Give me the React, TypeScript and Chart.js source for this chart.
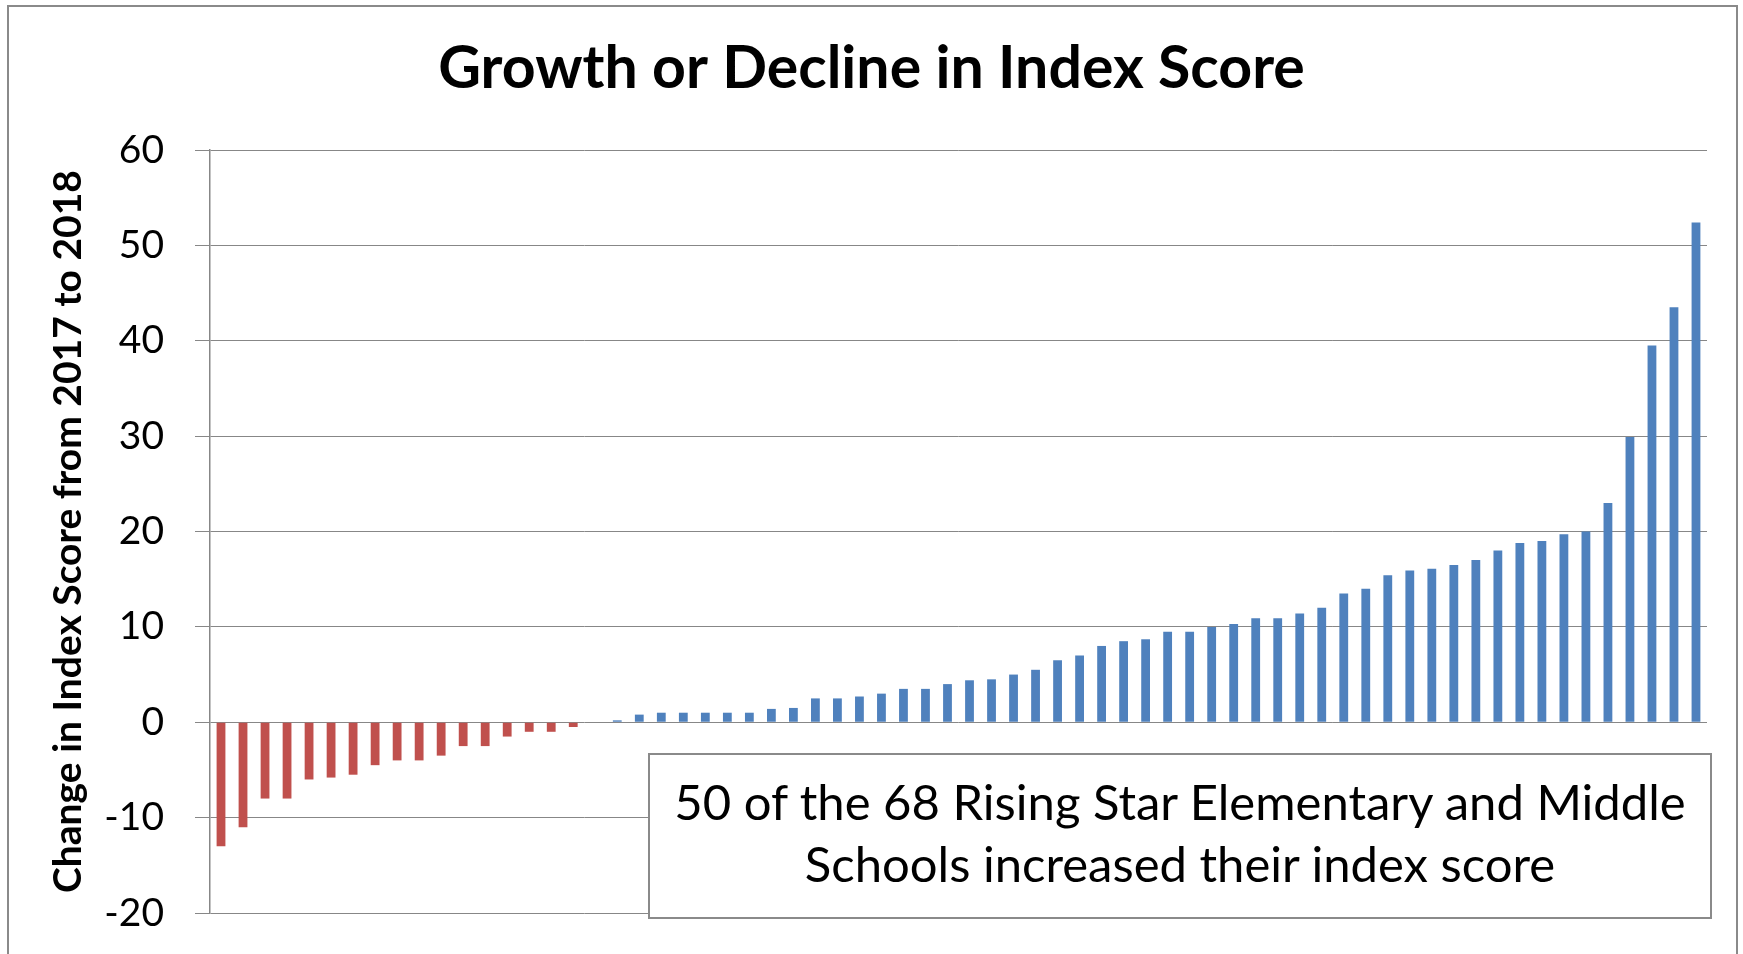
import React, { useEffect, useRef } from "react";
import { Chart, registerables } from "chart.js";

Chart.register(...registerables);

const chartTitle = "Growth or Decline in Index Score";
const yAxisTitle = "Change in Index Score from 2017 to 2018";
const noteLines = [
  "50 of the 68 Rising Star Elementary and Middle",
  "Schools increased their index score",
];

const schools = [
  "1", "2", "3", "4", "5", "6", "7", "8", "9", "10",
  "11", "12", "13", "14", "15", "16", "17", "18", "19", "20",
  "21", "22", "23", "24", "25", "26", "27", "28", "29", "30",
  "31", "32", "33", "34", "35", "36", "37", "38", "39", "40",
  "41", "42", "43", "44", "45", "46", "47", "48", "49", "50",
  "51", "52", "53", "54", "55", "56", "57", "58", "59", "60",
  "61", "62", "63", "64", "65", "66", "67", "68",
];

const indexChange = [
  -13, -11, -8, -8, -6, -5.8, -5.5, -4.5, -4, -4,
  -3.5, -2.5, -2.5, -1.5, -1, -1, -0.5, 0, 0.2, 0.8,
  1, 1, 1, 1, 1, 1.4, 1.5, 2.5, 2.5, 2.7,
  3, 3.5, 3.5, 4, 4.4, 4.5, 5, 5.5, 6.5, 7,
  8, 8.5, 8.7, 9.5, 9.5, 10, 10.3, 10.9, 10.9, 11.4,
  12, 13.5, 14, 15.4, 15.9, 16.1, 16.5, 17, 18, 18.8,
  19, 19.7, 20, 23, 29.9, 39.5, 43.5, 52.4,
];

const yTickValues = [-20, -10, 0, 10, 20, 30, 40, 50, 60];

const RED = "#C0504D";
const BLUE = "#4F81BD";
const GRID = "#878787";

const titlePlugin = {
  id: "fixedTitle",
  afterDraw(chart: any) {
    const ctx = chart.ctx;
    ctx.save();
    ctx.font = "bold 59px Lato";
    ctx.fillStyle = "#000";
    ctx.textAlign = "center";
    ctx.textBaseline = "alphabetic";
    ctx.fillText(chartTitle, chart.width / 2, 88);
    ctx.restore();
  },
};

export default function App() {
  const canvasRef = useRef<HTMLCanvasElement | null>(null);

  useEffect(() => {
    const canvas = canvasRef.current;
    if (!canvas) return;
    const chart = new Chart(canvas, {
      type: "bar",
      data: {
        labels: schools,
        datasets: [
          {
            data: indexChange,
            backgroundColor: indexChange.map((v) => (v < 0 ? RED : BLUE)),
            borderWidth: 0,
            barPercentage: 0.4,
            categoryPercentage: 1,
          },
        ],
      },
      options: {
        responsive: false,
        animation: false,
        devicePixelRatio: 1,
        layout: { padding: { left: 0, right: 36, top: 150, bottom: 41 } },
        plugins: {
          legend: { display: false },
          tooltip: { enabled: false },
          title: { display: false },
        },
        scales: {
          x: {
            display: false,
            grid: { display: false },
          },
          y: {
            min: yTickValues[0],
            max: yTickValues[yTickValues.length - 1],
            ticks: {
              stepSize: yTickValues[1] - yTickValues[0],
              padding: 31,
              color: "#000",
              font: { family: "Lato", size: 39 },
            },
            grid: {
              color: GRID,
              lineWidth: 1,
              tickLength: 15,
              drawTicks: true,
            },
            border: { color: GRID, width: 1.5 },
            title: {
              display: true,
              text: yAxisTitle,
              color: "#000",
              font: { family: "Lato", size: 39, weight: "bold", lineHeight: 1.2 },
              padding: { top: 45, bottom: 0 },
            },
            afterFit: (scale: any) => {
              scale.width = 210;
              scale.paddingTop = 0;
              scale.paddingBottom = 0;
            },
          },
        },
      },
      plugins: [titlePlugin],
    } as any);
    return () => chart.destroy();
  }, []);

  return (
    <div
      style={{
        position: "fixed",
        left: 0,
        top: 0,
        width: 1743,
        height: 954,
        overflow: "hidden",
        background: "#fff",
      }}
    >
      <canvas
        ref={canvasRef}
        width={1743}
        height={954}
        style={{ position: "absolute", left: 0, top: 0, width: 1743, height: 954 }}
      />
      <div
        style={{
          position: "absolute",
          left: 7,
          top: 5,
          width: 1731,
          height: 1000,
          border: "2px solid #8a8a8a",
          boxSizing: "border-box",
          pointerEvents: "none",
        }}
      />
      <div
        style={{
          position: "absolute",
          left: 648,
          top: 753,
          width: 1064,
          height: 166,
          boxSizing: "border-box",
          border: "2px solid #8a8a8a",
          background: "#fff",
          paddingTop: 15,
          fontFamily: "Lato",
          fontSize: 49,
          lineHeight: "62px",
          textAlign: "center",
          whiteSpace: "nowrap",
          color: "#000",
        }}
      >
        {noteLines[0]}
        <br />
        {noteLines[1]}
      </div>
    </div>
  );
}
